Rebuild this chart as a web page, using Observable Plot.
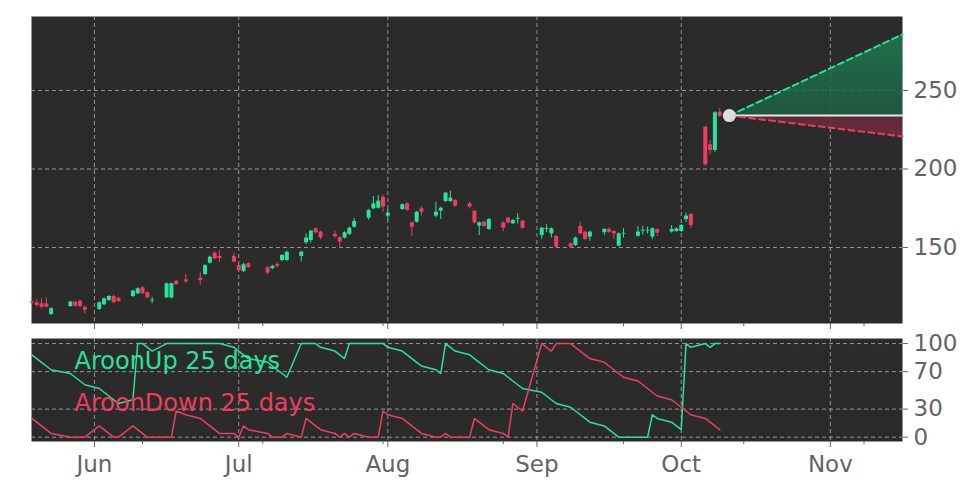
<!DOCTYPE html>
<html><head><meta charset="utf-8">
<script src="https://cdn.jsdelivr.net/npm/d3@7"></script>
<script src="https://cdn.jsdelivr.net/npm/@observablehq/plot@0.6"></script>
<style>
body{margin:0;background:#fff;font-family:"DejaVu Sans",sans-serif;}
#c{position:relative;width:972px;height:486px;}
#c svg{position:absolute;left:0;}
</style></head><body><div id="c"></div>
<script>
const dates = ["2025-05-19","2025-05-20","2025-05-21","2025-05-22","2025-05-23",
"2025-05-27","2025-05-28","2025-05-29","2025-05-30",
"2025-06-02","2025-06-03","2025-06-04","2025-06-05","2025-06-06",
"2025-06-09","2025-06-10","2025-06-11","2025-06-12","2025-06-13",
"2025-06-16","2025-06-17","2025-06-18","2025-06-20",
"2025-06-23","2025-06-24","2025-06-25","2025-06-26","2025-06-27",
"2025-06-30","2025-07-01","2025-07-02","2025-07-03",
"2025-07-07","2025-07-08","2025-07-09","2025-07-10","2025-07-11",
"2025-07-14","2025-07-15","2025-07-16","2025-07-17","2025-07-18",
"2025-07-21","2025-07-22","2025-07-23","2025-07-24","2025-07-25",
"2025-07-28","2025-07-29","2025-07-30","2025-07-31","2025-08-01",
"2025-08-04","2025-08-05","2025-08-06","2025-08-07","2025-08-08",
"2025-08-11","2025-08-12","2025-08-13","2025-08-14","2025-08-15",
"2025-08-18","2025-08-19","2025-08-20","2025-08-21","2025-08-22",
"2025-08-25","2025-08-26","2025-08-27","2025-08-28","2025-08-29",
"2025-09-02","2025-09-03","2025-09-04","2025-09-05",
"2025-09-08","2025-09-09","2025-09-10","2025-09-11","2025-09-12",
"2025-09-15","2025-09-16","2025-09-17","2025-09-18","2025-09-19",
"2025-09-22","2025-09-23","2025-09-24","2025-09-25","2025-09-26",
"2025-09-29","2025-09-30","2025-10-01","2025-10-02","2025-10-03",
"2025-10-06","2025-10-07","2025-10-08","2025-10-09"];
const open = [115.3,114.8,114.1,114.1,107.3, 112.4,115.2,115.8,112.0, 110.5,113.5,116.2,118.8,117.7,
118.8,120.5,124.3,121.2,115.9, 118.0,117.8,128.5,129.4, 130.4,132.8,140.0,146.4,144.3,
144.3,138.5,134.7,139.7, 137.1,136.5,139.2,141.7,141.7, 144.3,153.0,154.5,161.9,159.8,
158.4,156.2,156.0,158.3,162.9, 168.7,174.6,175.0,182.0,170.0, 174.2,177.8,165.7,166.1,174.6,
170.0,173.2,179.3,179.3,179.9, 177.8,173.1,163.6,166.1,161.5, 165.7,168.7,165.1,168.0,166.8,
157.6,161.5,158.7,157.0, 152.4,151.3,163.4,159.8,156.6, 159.4,161.5,160.2,150.9,158.5,
157.2,160.5,160.5,156.6,161.3, 159.8,160.2,160.2,167.8,171.0, 226.6,215.4,211.8,236.2];
const high = [116.5,116.7,117.3,117.7,111.6, 115.8,115.8,116.5,112.6, 115.4,117.9,119.4,119.8,118.2,
122.8,124.3,125.0,121.8,118.3, 127.3,127.3,129.0,133.0, 134.0,139.0,144.5,147.2,148.0,
146.6,139.0,140.0,140.3, 137.7,138.6,140.3,145.5,147.6, 147.7,158.7,161.0,162.5,160.4,
160.5,157.0,160.0,163.0,168.5, 174.2,182.5,183.0,183.2,174.2, 177.8,178.5,166.3,173.0,176.0,
178.9,175.6,185.2,185.9,180.5, 179.0,173.7,166.3,166.7,168.4, 166.3,169.3,167.8,171.5,167.4,
162.9,164.5,162.5,157.6, 153.0,156.6,166.0,160.4,160.4, 162.0,162.5,160.8,159.3,162.0,
163.5,163.5,163.0,162.5,161.9, 164.0,162.4,164.6,172.0,171.6, 227.2,218.0,236.4,238.5];
const low = [113.5,112.0,111.0,111.5,106.7, 112.0,112.0,111.8,107.8, 109.9,113.0,115.6,114.2,115.0,
118.2,119.9,120.0,117.4,114.2, 117.5,117.3,125.8,127.0, 126.0,132.0,139.5,142.3,140.7,
140.0,134.8,134.0,136.6, 132.8,135.8,137.0,141.0,141.0, 140.7,152.0,153.0,158.8,155.0,
156.0,149.4,155.4,157.7,162.3, 167.5,174.0,174.4,172.5,167.2, 173.6,173.0,157.0,165.5,170.0,
169.0,167.8,178.7,178.7,175.6, 174.5,165.0,157.6,162.8,160.9, 160.0,165.1,164.5,165.0,161.7,
155.2,159.5,156.0,149.6, 149.6,150.7,158.1,154.5,154.0, 157.5,159.0,155.0,150.3,156.0,
156.6,158.0,158.5,155.0,157.0, 159.2,159.6,159.6,166.0,162.0, 201.5,209.0,210.5,232.8];
const close = [114.6,113.1,112.0,112.0,111.0, 115.2,112.6,112.4,109.9, 114.8,117.3,118.8,114.8,115.6,
122.2,123.7,120.5,118.0,116.5, 126.9,126.9,126.3,128.2, 129.0,138.5,143.8,142.8,143.0,
140.7,135.4,139.0,137.1, 133.7,138.0,138.0,144.9,147.0, 147.0,156.0,160.4,159.4,156.2,
156.8,153.4,159.4,162.3,166.6, 173.6,177.8,179.5,175.7,171.9, 177.2,173.6,162.9,172.5,172.5,
172.5,175.0,184.6,181.4,176.3, 175.7,165.7,165.7,163.4,167.8, 162.3,165.7,167.2,168.6,162.3,
162.3,162.0,161.9,150.2, 150.2,156.0,158.7,155.1,159.8, 161.5,159.6,158.7,158.7,159.0,
159.8,161.0,161.0,161.9,159.2, 161.5,161.8,164.0,170.0,164.0, 202.7,211.8,235.8,233.6];
const aroonUp = [88,84,80,76,72, 68,64,60,56, 52,48,44,40,36, 40,100,100,96,92, 100,100,100,100,
100,100,100,100,100, 96,92,88,84, 80,76,72,68,64, 100,100,100,100,96, 92,88,84,100,100,
100,100,100,100,96, 92,88,84,80,76, 72,68,100,96,92, 88,84,80,76,72, 68,64,60,56,52,
48,44,40,36, 32,28,24,20,16, 12,8,4,0,0, 0,0,0,24,20, 16,12,8,100,96, 100,96,100,100];
const aroonDown = [20,16,12,8,4, 0,0,0,0, 12,8,4,0,0, 12,8,4,0,0, 0,0,28,24,
20,16,12,8,4, 4,0,12,8, 4,0,0,0,4, 0,20,16,12,8, 4,0,4,0,4,
0,0,0,28,24, 20,16,12,8,4, 0,0,4,0,0, 0,20,16,12,8, 4,0,36,32,28,
100,96,92,100, 100,96,92,88,84, 80,76,72,68,64, 60,56,52,48,44, 40,36,32,28,24, 20,16,12,8];
const priceTicks = [150, 200, 250];
const aroonTicks = [0, 30, 70, 100];
const monthTicks = ["2025-06-01","2025-07-01","2025-08-01","2025-09-01","2025-10-01","2025-11-01"];
const minorTicks = ["2025-06-11","2025-07-06","2025-07-31","2025-08-25","2025-09-19","2025-10-14","2025-11-08"];
const forecastDates = ["2025-10-11","2025-11-16"];
const forecastMid = [234, 234];
const forecastUpper = [234, 285.7];
const forecastLower = [234, 220.7];
const labelUp = "AroonUp 25 days";
const labelDown = "AroonDown 25 days";

const GREEN = "#27e39b", RED = "#f03c5f", BG = "#2b2b2b", GRID = "#b0b0b0", AX = "#636363";
const P = d => new Date(d + "T00:00:00Z");
const candles = dates.map((d, i) => ({date: P(d), o: open[i], h: high[i], l: low[i], c: close[i]}));
const aroon = dates.map((d, i) => ({date: P(d), up: aroonUp[i], down: aroonDown[i]}));
const fc = forecastDates.map((d, i) => ({date: P(d), mid: forecastMid[i], up: forecastUpper[i], lo: forecastLower[i]}));
const months = monthTicks.map(P), minors = minorTicks.map(P);
const xDomain = [new Date("2025-05-18T22:00:00Z"), new Date("2025-11-16T00:00:00Z")];
const col = d => d.c >= d.o ? GREEN : RED;
const gridStyle = {stroke: GRID, strokeDasharray: "4,3", strokeOpacity: 0.8, strokeWidth: 1};
const font = {fontFamily: "DejaVu Sans", fontSize: "23px", color: AX, background: "transparent", overflow: "visible"};

const defs = () => {
  const g = d3.create("svg:defs");
  const a = g.append("linearGradient").attr("id", "gUp").attr("x1", 0).attr("y1", 0).attr("x2", 0).attr("y2", 1);
  a.append("stop").attr("offset", "0%").attr("stop-color", "#1f7a52").attr("stop-opacity", 0.85);
  a.append("stop").attr("offset", "100%").attr("stop-color", "#1d5e43").attr("stop-opacity", 0.85);
  const b = g.append("linearGradient").attr("id", "gDn").attr("x1", 0).attr("y1", 0).attr("x2", 0).attr("y2", 1);
  b.append("stop").attr("offset", "0%").attr("stop-color", "#6a2a3a").attr("stop-opacity", 0.8);
  b.append("stop").attr("offset", "100%").attr("stop-color", "#7a2c40").attr("stop-opacity", 0.8);
  return g.node();
};

const priceChart = Plot.plot({
  width: 972, height: 330, marginLeft: 31, marginRight: 70, marginTop: 16, marginBottom: 7,
  style: font,
  x: {type: "utc", domain: xDomain, axis: null},
  y: {domain: [101.6, 297.1], axis: null},
  marks: [
    defs,
    Plot.frame({fill: BG, stroke: null}),
    Plot.gridX(months, gridStyle),
    Plot.gridY(priceTicks, gridStyle),
    Plot.areaY(fc, {x: "date", y1: "mid", y2: "up", fill: "url(#gUp)"}),
    Plot.areaY(fc, {x: "date", y1: "lo", y2: "mid", fill: "url(#gDn)"}),
    Plot.line(fc, {x: "date", y: "mid", stroke: "#e6e6e6", strokeWidth: 2}),
    Plot.line(fc, {x: "date", y: "up", stroke: GREEN, strokeWidth: 2, strokeDasharray: "6,4"}),
    Plot.line(fc, {x: "date", y: "lo", stroke: RED, strokeWidth: 2, strokeDasharray: "6,4"}),
    Plot.ruleX(candles, {x: "date", y1: "l", y2: "h", stroke: col, strokeWidth: 1}),
    Plot.ruleX(candles, {x: "date", y1: "o", y2: "c", stroke: col, strokeWidth: 4}),
    Plot.dot([fc[0]], {x: "date", y: "mid", r: 6.5, fill: "#dddddd", stroke: null}),
    Plot.axisY(priceTicks, {anchor: "right", tickSize: 5, tickPadding: 6, fontSize: 23, stroke: AX, fill: AX}),
    Plot.axisX(months, {anchor: "bottom", tickSize: 6, tickFormat: () => "", stroke: AX}),
    Plot.axisX(minors, {anchor: "bottom", tickSize: 3, tickFormat: () => "", stroke: AX})
  ]
});

const aroonChart = Plot.plot({
  width: 972, height: 156, marginLeft: 31, marginRight: 70, marginTop: 8, marginBottom: 45,
  style: font,
  x: {type: "utc", domain: xDomain, axis: null},
  y: {domain: [-4.6, 105.4], axis: null},
  marks: [
    Plot.frame({fill: BG, stroke: null}),
    Plot.gridX(months, gridStyle),
    Plot.gridY(aroonTicks, gridStyle),
    Plot.line(aroon, {x: "date", y: "up", stroke: GREEN, strokeWidth: 1.5}),
    Plot.line(aroon, {x: "date", y: "down", stroke: RED, strokeWidth: 1.5}),
    Plot.text([labelUp], {frameAnchor: "top-left", dx: 43, dy: 13, lineAnchor: "top", textAnchor: "start", fill: GREEN, fontSize: 24}),
    Plot.text([labelDown], {frameAnchor: "top-left", dx: 43, dy: 55, lineAnchor: "top", textAnchor: "start", fill: RED, fontSize: 24}),
    Plot.axisY(aroonTicks, {anchor: "right", tickSize: 5, tickPadding: 6, fontSize: 23, stroke: AX, fill: AX}),
    Plot.axisX(months, {anchor: "bottom", tickSize: 6, tickPadding: 8, fontSize: 23, tickFormat: d3.utcFormat("%b"), stroke: AX, fill: AX}),
    Plot.axisX(minors, {anchor: "bottom", tickSize: 3, tickFormat: () => "", stroke: AX})
  ]
});

const c = document.getElementById("c");
priceChart.style.top = "0px"; aroonChart.style.top = "330px";
c.appendChild(priceChart); c.appendChild(aroonChart);
</script></body></html>
